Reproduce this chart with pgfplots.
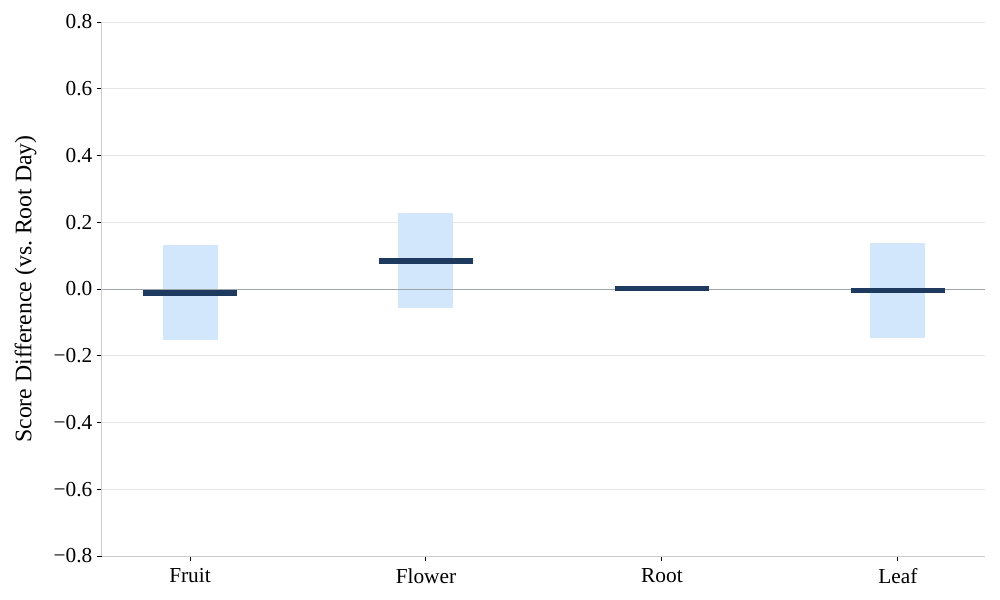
\documentclass[border=0pt]{standalone}
\usepackage{pgfplots}
\pgfplotsset{compat=1.18}
\usepackage{fontspec}
\setmainfont{Liberation Serif}
\definecolor{cibox}{HTML}{D2E6FC}
\definecolor{meanline}{HTML}{1F3A5F}
\definecolor{spine}{HTML}{CCCCCC}
\definecolor{gridc}{HTML}{E6E6E6}
\definecolor{zeroc}{HTML}{A0A4AB}
\begin{document}
\begin{tikzpicture}
\path[use as bounding box] (-76.5pt,-33pt) rectangle (673.5pt,417pt);
\begin{axis}[
    at={(0pt,0pt)}, anchor=south west,
    scale only axis,
    width=662.25pt, height=400.5pt,
    xmin=-0.373, xmax=3.369,
    ymin=-0.8, ymax=0.8,
    axis x line*=bottom, axis y line*=left,
    axis line style={spine, line width=0.75pt, -},
    xtick={0,1,2,3},
    xticklabels={Fruit,Flower,Root,Leaf},
    ytick={-0.8,-0.6,-0.4,-0.2,0,0.2,0.4,0.6,0.8},
    yticklabels={−0.8,−0.6,−0.4,−0.2,0.0,0.2,0.4,0.6,0.8},
    tick align=outside,
    major tick length=3.75pt,
    tick style={black, line width=0.75pt},
    ymajorgrids=true,
    grid style={gridc, line width=0.75pt},
    ticklabel style={font=\fontsize{16}{19}\selectfont},
    xticklabel style={yshift=-2pt},
    ylabel={Score Difference (vs.\ Root Day)},
    every axis y label/.style={at={(axis description cs:-0.0865,0.5)}, rotate=90, anchor=center, font=\fontsize{17.8}{21}\selectfont},
]
% confidence ranges (centre +- half height)
\addplot[draw=none, mark=none, error bars/.cd, y dir=both, y explicit,
    error mark=none, error bar style={draw=cibox, line width=41.25pt}]
    coordinates {
    (0,-0.010) +- (0,0.142)
    (1,0.0855) +- (0,0.1435)
    (3,-0.0045) +- (0,0.1435)
    };
% zero line
\addplot[zeroc, line width=0.75pt] coordinates {(-0.373,0) (3.369,0)};
% point estimates (half width 0.2 in x)
\addplot[draw=none, mark=none, error bars/.cd, x dir=both, x explicit,
    error mark=none, error bar style={draw=meanline, line width=4.3pt}]
    coordinates {
    (0,-0.011) +- (0.2,0)
    (1,0.085) +- (0.2,0)
    (2,0.0015) +- (0.2,0)
    (3,-0.0045) +- (0.2,0)
    };
\end{axis}
\end{tikzpicture}
\end{document}
